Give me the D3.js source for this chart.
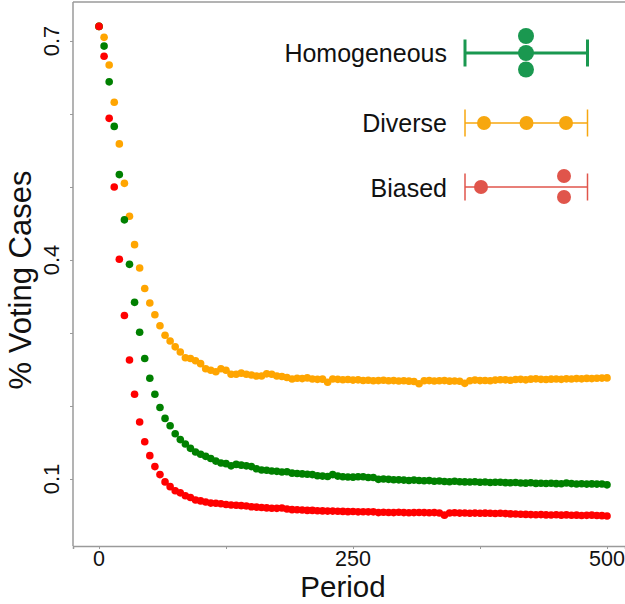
<!DOCTYPE html>
<html><head><meta charset="utf-8">
<script src="https://cdn.jsdelivr.net/npm/d3@7"></script>
<style>body{margin:0;background:#fff}svg{display:block;font-family:"Liberation Sans",Arial,sans-serif}</style>
</head><body><svg id="c" width="625" height="604"></svg>
<script>
const periods = d3.range(0, 501, 5);
const biased = [0.72,0.679,0.594,0.500,0.401,0.324,0.263,0.216,0.178,0.151,0.132,0.117,0.106,0.096,0.0895,0.084,0.081,0.077,0.0747,0.0712,0.070,0.0685,0.067,0.0667,0.066,0.065,0.0644,0.064,0.0635,0.063,0.062,0.0615,0.061,0.0605,0.060,0.0598,0.0603,0.059,0.058,0.0578,0.0575,0.057,0.057,0.0565,0.0563,0.056,0.056,0.0558,0.0556,0.0553,0.0555,0.055,0.0552,0.055,0.055,0.054,0.0545,0.0542,0.054,0.0545,0.054,0.0538,0.054,0.0542,0.054,0.0538,0.054,0.0535,0.0505,0.0535,0.0537,0.0533,0.0535,0.053,0.0533,0.053,0.0532,0.053,0.0528,0.053,0.0526,0.0522,0.052,0.0518,0.0515,0.0512,0.051,0.0512,0.0508,0.0507,0.051,0.0505,0.0508,0.0503,0.0505,0.05,0.0502,0.0505,0.05,0.0498,0.0493];
const homogeneous = [0.72,0.693,0.644,0.583,0.517,0.455,0.394,0.342,0.301,0.265,0.238,0.216,0.198,0.183,0.173,0.162,0.154,0.148,0.142,0.137,0.134,0.131,0.128,0.1245,0.122,0.121,0.118,0.120,0.119,0.118,0.117,0.114,0.1123,0.112,0.111,0.1105,0.1096,0.1099,0.108,0.1075,0.107,0.1065,0.106,0.1045,0.104,0.1035,0.106,0.104,0.103,0.1028,0.1025,0.103,0.103,0.102,0.102,0.0995,0.1,0.0995,0.099,0.0988,0.0985,0.098,0.0985,0.098,0.0975,0.0978,0.097,0.0972,0.0965,0.0963,0.097,0.0962,0.096,0.0958,0.0962,0.0955,0.0958,0.0953,0.0955,0.0955,0.095,0.0948,0.0952,0.0945,0.0943,0.0948,0.094,0.0942,0.0938,0.0941,0.0936,0.0934,0.0945,0.0937,0.0932,0.0935,0.093,0.0933,0.093,0.0932,0.092];
const diverse = [0.72,0.705,0.667,0.616,0.559,0.505,0.460,0.421,0.389,0.361,0.341,0.325,0.310,0.297,0.289,0.281,0.274,0.266,0.265,0.262,0.258,0.251,0.249,0.247,0.251,0.249,0.2435,0.2435,0.245,0.2435,0.2425,0.241,0.241,0.244,0.2435,0.241,0.2405,0.239,0.237,0.238,0.2375,0.2385,0.237,0.2365,0.2368,0.2325,0.237,0.2365,0.236,0.2362,0.2355,0.2358,0.235,0.2352,0.2345,0.2348,0.2352,0.2345,0.2348,0.2342,0.2345,0.234,0.2335,0.2305,0.2345,0.2348,0.2342,0.2345,0.2348,0.234,0.2342,0.2338,0.231,0.2345,0.2355,0.2348,0.235,0.2345,0.2355,0.236,0.2358,0.2352,0.2362,0.2365,0.2358,0.2368,0.2372,0.2365,0.2362,0.2368,0.237,0.2365,0.2372,0.237,0.2375,0.2372,0.2378,0.2375,0.238,0.2382,0.2385];
const xTicks = [0, 250, 500];
const xMinorTicks = [125, 375];
const yTicks = [0.1, 0.4, 0.7];
const yMinorTicks = [0.2, 0.3, 0.5, 0.6];
const legendLabels = ["Homogeneous", "Diverse", "Biased"];

const svg = d3.select("#c");
const x = d3.scaleLinear().domain([-25.6, 517.7]).range([73, 625]);
const y = d3.scaleLinear().domain([0.00822, 0.7534]).range([546, 2]);
const axisCol = "#9a9a9a";

// frame
svg.append("line").attr("x1",73).attr("x2",625).attr("y1",2).attr("y2",2).attr("stroke",axisCol).attr("stroke-width",1.5);
svg.append("line").attr("x1",73).attr("x2",73).attr("y1",2).attr("y2",546).attr("stroke",axisCol).attr("stroke-width",1.5);

const xa = svg.append("g").attr("transform","translate(0,546)")
  .call(d3.axisBottom(x).tickValues(xTicks.concat(xMinorTicks)).tickSize(3).tickFormat(""));
xa.select(".domain").attr("stroke",axisCol).attr("stroke-width",1.5);
xa.selectAll(".tick line").attr("stroke",axisCol);
svg.append("g").selectAll("text").data(xTicks).join("text")
  .attr("x",d=>x(d)).attr("y",566).attr("text-anchor","middle").attr("font-size",21.5).attr("fill","#111").text(d=>d);

const ya = svg.append("g").attr("transform","translate(73,0)")
  .call(d3.axisLeft(y).tickValues(yTicks.concat(yMinorTicks)).tickSize(3).tickFormat(""));
ya.select(".domain").remove();
ya.selectAll(".tick line").attr("stroke",axisCol);
svg.append("g").selectAll("text").data(yTicks).join("text")
  .attr("transform",d=>`translate(59,${y(d)}) rotate(-90)`).attr("text-anchor","middle")
  .attr("font-size",22).attr("fill","#111").text(d=>d3.format(".1f")(d));

svg.append("text").attr("x",343).attr("y",597).attr("text-anchor","middle").attr("font-size",29.5).attr("fill","#111").text("Period");
svg.append("text").attr("transform","translate(31,280) rotate(-90)").attr("text-anchor","middle").attr("font-size",31).attr("fill","#111").text("% Voting Cases");

const series = [
  {vals: diverse, color: "#ffa500"},
  {vals: homogeneous, color: "#008000"},
  {vals: biased, color: "#ff0000"}
];
series.forEach(s=>{
  svg.append("g").selectAll("circle").data(periods).join("circle")
    .attr("cx",(d)=>x(d)).attr("cy",(d,i)=>y(s.vals[i])).attr("r",3.8).attr("fill",s.color);
});

// legend
const lg = [
  {label: legendLabels[0], color:"#1a9850", base:62, cy:53, sw:3, dots:[[526,36],[526,53],[526,69.5]], r:8},
  {label: legendLabels[1], color:"#f7a70f", base:131.5, cy:123, sw:1.5, dots:[[484,123],[526.5,123],[566,123]], r:7},
  {label: legendLabels[2], color:"#e0554b", base:196.5, cy:187, sw:1.5, dots:[[481,187],[564,176],[564,197]], r:7}
];
lg.forEach(l=>{
  const g = svg.append("g");
  g.append("text").attr("x",447).attr("y",l.base).attr("text-anchor","end").attr("font-size",25).attr("fill","#111").text(l.label);
  g.append("line").attr("x1",465).attr("x2",587.5).attr("y1",l.cy).attr("y2",l.cy).attr("stroke",l.color).attr("stroke-width",l.sw);
  [465,587.5].forEach(xx=>g.append("line").attr("x1",xx).attr("x2",xx).attr("y1",l.cy-13.5).attr("y2",l.cy+13.5).attr("stroke",l.color).attr("stroke-width",l.sw));
  l.dots.forEach(([cx,cy])=>g.append("circle").attr("cx",cx).attr("cy",cy).attr("r",l.r).attr("fill",l.color));
});
</script></body></html>
